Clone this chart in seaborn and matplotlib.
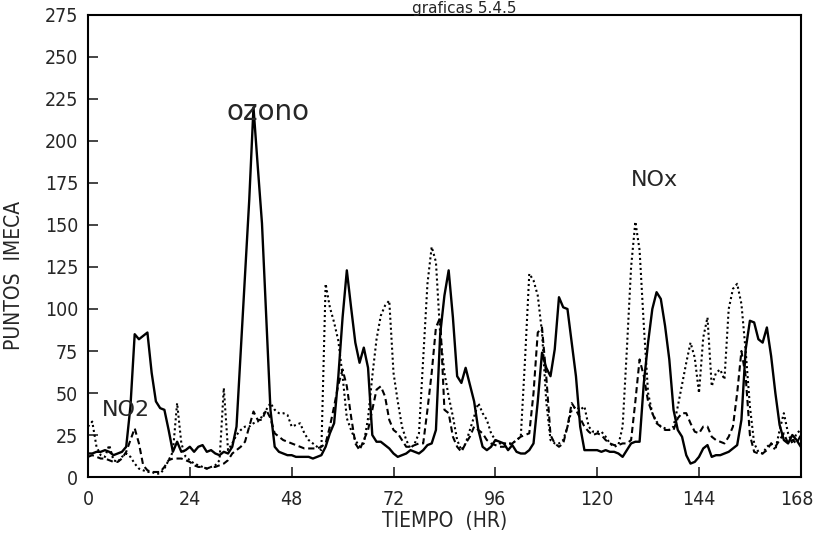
import numpy as np
import pandas as pd
import matplotlib
matplotlib.use("Agg")
import matplotlib.pyplot as plt
import matplotlib.transforms as mtransforms
import seaborn as sns

hours = list(range(0, 169))

ozono = [14, 14, 15, 15, 16, 15, 13, 14, 15, 18,
         42, 85, 82, 84, 86, 62, 45, 41, 40, 28,
         15, 21, 15, 16, 18, 15, 18, 19, 15, 16,
         14, 13, 15, 14, 18, 30, 75, 120, 165, 220,
         185, 151, 95, 40, 18, 15, 14, 13, 13, 12,
         12, 12, 12, 11, 12, 13, 18, 26, 32, 60,
         95, 123, 101, 80, 68, 77, 65, 25, 21, 21,
         19, 17, 14, 12, 13, 14, 16, 15, 14, 16,
         19, 20, 28, 85, 108, 123, 95, 60, 56, 65,
         55, 45, 28, 18, 16, 18, 22, 21, 20, 16,
         19, 15, 14, 14, 16, 20, 45, 74, 65, 60,
         76, 107, 101, 100, 80, 60, 30, 16, 16, 16,
         16, 15, 16, 15, 15, 14, 12, 16, 20, 21,
         21, 56, 80, 100, 110, 106, 90, 70, 40, 28,
         24, 13, 8, 9, 12, 17, 19, 12, 13, 13,
         14, 15, 17, 19, 34, 76, 93, 92, 82, 80,
         89, 72, 50, 31, 22, 20, 25, 22, 18]

nox = [30, 33, 18, 13, 12, 19, 10, 9, 12, 14,
       12, 8, 5, 4, 3, 3, 2, 2, 5, 10,
       15, 44, 20, 12, 10, 8, 7, 6, 5, 6,
       7, 10, 53, 16, 20, 25, 28, 30, 30, 32,
       33, 36, 40, 44, 40, 38, 38, 37, 30, 31,
       32, 26, 22, 20, 18, 16, 115, 101, 92, 81,
       60, 35, 28, 22, 18, 20, 35, 60, 82, 96,
       102, 105, 62, 45, 30, 22, 17, 20, 26, 70,
       115, 137, 128, 85, 62, 48, 36, 22, 16, 20,
       28, 36, 44, 38, 34, 26, 22, 20, 20, 20,
       20, 22, 24, 70, 121, 117, 108, 86, 45, 22,
       20, 20, 22, 30, 40, 42, 40, 42, 30, 27,
       27, 27, 24, 20, 18, 19, 30, 76, 125, 152,
       135, 90, 50, 38, 33, 30, 29, 28, 30, 42,
       55, 68, 80, 71, 50, 83, 95, 54, 62, 64,
       58, 100, 112, 115, 103, 75, 42, 20, 15, 14,
       18, 20, 16, 28, 38, 26, 20, 26, 28]

no2 = [12, 13, 12, 11, 11, 10, 9, 9, 11, 15,
       22, 29, 20, 7, 4, 3, 3, 3, 6, 10,
       11, 11, 11, 10, 9, 7, 6, 6, 5, 6,
       6, 7, 8, 10, 14, 16, 18, 21, 30, 39,
       34, 34, 40, 35, 26, 24, 22, 21, 20, 19,
       18, 17, 17, 17, 17, 18, 20, 30, 42, 55,
       64, 54, 36, 20, 16, 22, 28, 40, 52, 54,
       48, 34, 28, 26, 22, 18, 18, 19, 20, 20,
       40, 62, 89, 95, 40, 38, 24, 18, 15, 20,
       24, 30, 28, 26, 22, 20, 19, 18, 18, 19,
       20, 22, 24, 25, 26, 50, 86, 89, 60, 25,
       20, 18, 20, 30, 44, 40, 35, 30, 27, 25,
       26, 25, 22, 20, 19, 19, 20, 20, 22, 45,
       70, 60, 45, 38, 32, 30, 28, 28, 28, 35,
       38, 38, 32, 27, 26, 30, 30, 24, 22, 21,
       20, 24, 30, 50, 75, 60, 25, 15, 14, 14,
       16, 20, 18, 22, 26, 20, 22, 20, 25]

xticks = [0, 24, 48, 72, 96, 120, 144, 168]
yticks = [0, 25, 50, 75, 100, 125, 150, 175, 200, 225, 250, 275]

df = pd.DataFrame({"hora": hours, "ozono": ozono, "NOx": nox, "NO2": no2})

sns.set_style("ticks")
plt.rcParams["font.family"] = ["DejaVu Sans"]
plt.rcParams["font.stretch"] = "condensed"

fig = plt.figure(figsize=(8.18, 5.34), dpi=100)
ax = fig.add_axes([0.1076, 0.1067, 0.8714, 0.8653])

sns.lineplot(data=df, x="hora", y="ozono", ax=ax, color="black", lw=1.7)
sns.lineplot(data=df, x="hora", y="NOx", ax=ax, color="black", lw=1.5,
             linestyle=(0, (1, 1.4)))
sns.lineplot(data=df, x="hora", y="NO2", ax=ax, color="black", lw=1.5,
             linestyle=(0, (3, 1.8)))

ax.set_xlim(0, 168)
ax.set_ylim(0, 275)
ax.set_xticks(xticks)
ax.set_yticks(yticks)
ax.tick_params(direction="in", length=7, width=1.2, labelsize=14,
               top=False, right=False)
ax.tick_params(axis="x", pad=9)
ax.tick_params(axis="y", pad=7)
for s in ax.spines.values():
    s.set_linewidth(1.5)
    s.set_color("black")

# nudge the last x tick label slightly left so it stays inside the figure
last = ax.get_xticklabels()[-1]
last.set_transform(last.get_transform() +
                   mtransforms.ScaledTranslation(-4 / 100, 0, fig.dpi_scale_trans))

ax.set_xlabel("TIEMPO  (HR)", fontsize=15, labelpad=2)
ax.set_ylabel("PUNTOS  IMECA", fontsize=15)
ax.yaxis.set_label_coords(-0.09, 0.437)

ax.text(42.4, 217, "ozono", fontsize=20, ha="center", va="center",
        fontstretch="normal")
ax.text(133.6, 177, "NOx", fontsize=16, ha="center", va="center",
        fontstretch="normal")
ax.text(9, 40, "NO2", fontsize=16, ha="center", va="center",
        fontstretch="normal")

fig.text(0.568, 0.999, "graficas 5.4.5", fontsize=11, ha="center",
         va="top", fontstretch="normal")

fig.savefig("out.png", dpi=100, facecolor="white")
